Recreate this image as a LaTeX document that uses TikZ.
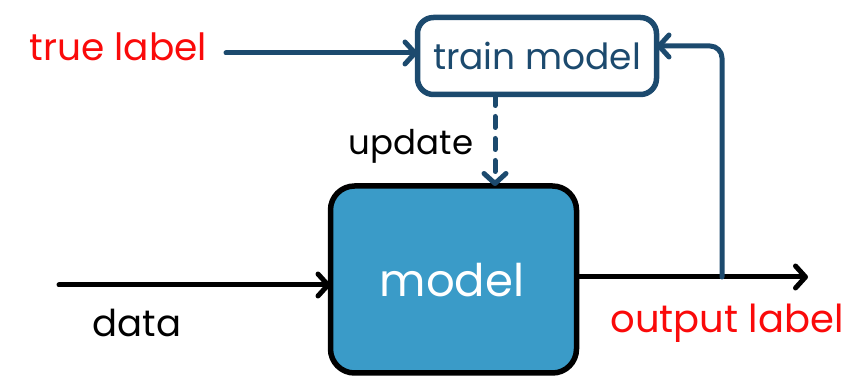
\documentclass[tikz,border=0pt]{standalone}
\usepackage{fontspec}
\setmainfont{Poppins}
\usetikzlibrary{arrows.meta}
\definecolor{dblue}{RGB}{28,74,110}
\definecolor{mfill}{RGB}{58,155,200}
\definecolor{lred}{RGB}{250,10,10}
\tikzset{
  every node/.style={inner sep=0pt, outer sep=0pt},
  conn/.style={line width=5pt, line cap=round, line join=round,
    -{Straight Barb[length=10pt,width=22pt,line cap=round,line join=round]}},
  blackconn/.style={conn, draw=black},
  blueconn/.style={conn, draw=dblue},
  trainbox/.style={draw=dblue, line width=5.5pt, rounded corners=16pt,
    minimum width=239pt, minimum height=77pt, text=dblue, font=\fontsize{36}{42}\selectfont},
  modelbox/.style={draw=black, fill=mfill, line width=5.5pt, rounded corners=24pt,
    minimum width=246pt, minimum height=187pt},
  redtxt/.style={text=lred, anchor=base, font=\fontsize{37.5}{42}\selectfont},
  blacktxt/.style={text=black, anchor=base, font=\fontsize{35}{40}\selectfont},
}
\begin{document}
\begin{tikzpicture}[x=1pt,y=-1pt]
\useasboundingbox (0,0) rectangle (844,379);
\node[trainbox] (train) at (537,56) {train model};
\node[modelbox] (model) at (453.5,279.5) {};
\node[text=white, anchor=base, font=\fontsize{45}{50}\selectfont] (modeltxt) at (452,297) {model};
\node[redtxt] (truelbl) at (118.5,61) {true label};
\node[blacktxt, font=\fontsize{34}{40}\selectfont] (update) at (411,155) {update};
\node[blacktxt, font=\fontsize{37}{40}\selectfont] (data) at (137,337) {data};
\node[redtxt, font=\fontsize{38.5}{42}\selectfont] (outlbl) at (727,333) {output label};
\coordinate (tlstart) at (226,53);
\coordinate (dstart) at (59,285);
\coordinate (outend) at (808,277);
\coordinate (fbstart) at (722,277);
\draw[blueconn] (tlstart) -- (tlstart -| train.west);
\draw[blackconn] (dstart) -- (dstart -| model.west);
\draw[blackconn] (outend -| model.east) -- (outend);
\draw[blueconn, rounded corners=12pt] (fbstart) |- ([yshift=10pt]train.east);
\draw[blueconn, dash pattern=on 11pt off 11pt] ([xshift=-42pt]train.south) -- ([xshift=-42pt]train.south |- model.north);
\end{tikzpicture}
\end{document}
